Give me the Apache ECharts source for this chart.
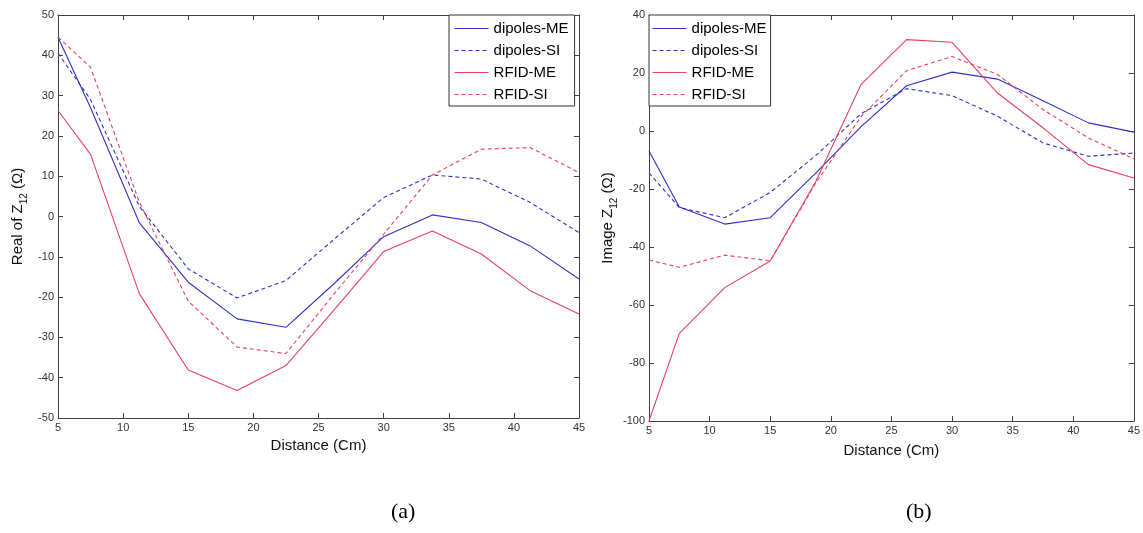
<!DOCTYPE html>
<html>
<head>
<meta charset="utf-8">
<script src="https://cdn.jsdelivr.net/npm/echarts@6/dist/echarts.min.js"></script>
<style>
html,body{margin:0;padding:0;background:#fff;}
#c{width:1143px;height:533px;}
</style>
</head>
<body>
<div id="c"></div>
<script>
// ---- data ----
var distance = [5, 7.5, 11.25, 15, 18.75, 22.5, 26.25, 30, 33.75, 37.5, 41.25, 45];
var seriesNames = ['dipoles-ME', 'dipoles-SI', 'RFID-ME', 'RFID-SI'];

// (a) Real of Z12
var dipolesME_re = [44.5, 27, -1.6, -16.3, -25.4, -27.5, -16.5, -5.0, 0.4, -1.5, -7.3, -15.5];
var dipolesSI_re = [40.5, 29, 2.5, -13, -20.2, -15.9, -5.5, 4.7, 10.3, 9.3, 3.5, -4.0];
var rfidME_re    = [26.3, 15.4, -19.2, -38.1, -43.2, -37.0, -23, -8.7, -3.6, -9.3, -18.4, -24.2];
var rfidSI_re    = [44.5, 37, 3.5, -21, -32.4, -34.0, -19, -4.4, 10.3, 16.7, 17.1, 10.9];

// (b) Image Z12
var dipolesME_im = [-6.9, -26.2, -32.1, -29.9, -14.5, 1.5, 15.6, 20.3, 17.9, 10.4, 2.8, -0.4];
var dipolesSI_im = [-14.4, -26.4, -29.9, -21.2, -8.5, 6, 14.6, 12.2, 5.1, -4.1, -8.7, -7.6];
var rfidME_im    = [-100, -69.8, -54, -44.8, -17.5, 16.1, 31.5, 30.6, 13.1, 1.1, -11.6, -16.2];
var rfidSI_im    = [-44.5, -47, -42.8, -44.8, -18, 5, 20.8, 25.7, 19.5, 7.4, -2.4, -9.6];

var xTicks = {min: 5, max: 45, interval: 5};
var yTicksA = {min: -50, max: 50, interval: 10};
var yTicksB = {min: -100, max: 40, interval: 20};

// ---- styles ----
var BLUE = '#3030c8';
var RED = '#e8405f';
var FONT = '"Liberation Sans", Arial, sans-serif';
var AXC = '#404040';

function pairs(xs, ys) { return xs.map(function (x, i) { return [x, ys[i]]; }); }

function mkSeries(name, data, color, dashed, gi) {
  return {
    name: name, type: 'line', xAxisIndex: gi * 2, yAxisIndex: gi * 2,
    data: pairs(distance, data), symbol: 'none', silent: true, animation: false,
    lineStyle: {color: color, width: 1.1, type: dashed ? [4, 3] : 'solid'},
    itemStyle: {color: color}
  };
}

function xAx(gi, top) {
  return {
    type: 'value', gridIndex: gi, min: xTicks.min, max: xTicks.max, interval: xTicks.interval,
    position: top ? 'top' : 'bottom',
    name: top ? '' : 'Distance (Cm)', nameLocation: 'middle', nameGap: gi === 0 ? 20 : 22,
    nameTextStyle: {fontFamily: FONT, fontSize: 15, color: '#111'},
    axisLine: {show: true, onZero: false, lineStyle: {color: AXC, width: 1}},
    axisTick: {show: true, inside: true, length: 5, lineStyle: {color: AXC}},
    axisLabel: {show: !top, fontFamily: FONT, fontSize: 11, color: '#333', margin: 4},
    splitLine: {show: false}
  };
}

function yAx(gi, right, t, name, gap) {
  return {
    type: 'value', gridIndex: gi, min: t.min, max: t.max, interval: t.interval,
    position: right ? 'right' : 'left',
    name: right ? '' : name, nameLocation: 'middle', nameGap: gap,
    nameTextStyle: {
      fontFamily: FONT, color: '#111',
      rich: {
        n: {fontFamily: FONT, fontSize: 15, color: '#111', lineHeight: 22, verticalAlign: 'middle'},
        s: {fontFamily: FONT, fontSize: 10, color: '#111', lineHeight: 10, verticalAlign: 'bottom'}
      }
    },
    axisLine: {show: true, onZero: false, lineStyle: {color: AXC, width: 1}},
    axisTick: {show: true, inside: true, length: 5, lineStyle: {color: AXC}},
    axisLabel: {show: !right, fontFamily: FONT, fontSize: 11, color: '#333', margin: 4},
    splitLine: {show: false}
  };
}

function legend(left, top, padding, itemWidth) {
  return {
    orient: 'vertical', left: left, top: top, data: seriesNames,
    backgroundColor: '#fff', borderColor: '#333', borderWidth: 1, borderRadius: 0,
    padding: padding, itemWidth: itemWidth, itemHeight: 14, itemGap: 7,
    selectedMode: false,
    itemStyle: {opacity: 0},
    lineStyle: {width: 1.1},
    textStyle: {fontFamily: FONT, fontSize: 15, color: '#000'}
  };
}

var chart = echarts.init(document.getElementById('c'), null, {renderer: 'canvas'});
chart.setOption({
  backgroundColor: '#fff',
  animation: false,
  grid: [
    {left: 58, top: 15, width: 521, height: 403},
    {left: 649, top: 15, width: 487, height: 406}
  ],
  xAxis: [xAx(0, false), xAx(0, true), xAx(1, false), xAx(1, true)],
  yAxis: [
    yAx(0, false, yTicksA, '{n|Real of Z}{s|12}{n| (Ω)}', 29),
    yAx(0, true, yTicksA, '', 0),
    yAx(1, false, yTicksB, '{n|Image Z}{s|12}{n| (Ω)}', 26),
    yAx(1, true, yTicksB, '', 0)
  ],
  legend: [
    legend(449, 15, [6, 6, 4, 5], 34),
    legend(649, 15, [6, 4, 4, 3], 34)
  ],
  series: [
    mkSeries('dipoles-ME', dipolesME_re, BLUE, false, 0),
    mkSeries('dipoles-SI', dipolesSI_re, BLUE, true, 0),
    mkSeries('RFID-ME', rfidME_re, RED, false, 0),
    mkSeries('RFID-SI', rfidSI_re, RED, true, 0),
    mkSeries('dipoles-ME', dipolesME_im, BLUE, false, 1),
    mkSeries('dipoles-SI', dipolesSI_im, BLUE, true, 1),
    mkSeries('RFID-ME', rfidME_im, RED, false, 1),
    mkSeries('RFID-SI', rfidSI_im, RED, true, 1)
  ],
  graphic: [
    {type: 'text', left: 391, top: 501, style: {text: '(a)', font: '22px "Liberation Serif", "Times New Roman", serif', fill: '#000'}},
    {type: 'text', left: 906, top: 501, style: {text: '(b)', font: '22px "Liberation Serif", "Times New Roman", serif', fill: '#000'}}
  ]
});
</script>
</body>
</html>
